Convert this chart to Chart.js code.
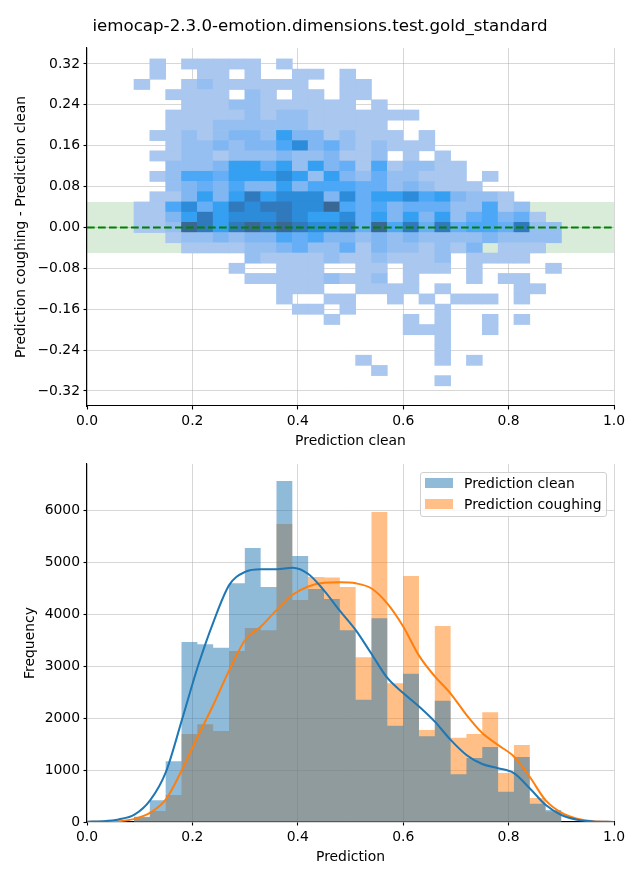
<!DOCTYPE html>
<html><head><meta charset="utf-8">
<script src="https://cdn.jsdelivr.net/npm/chart.js@4.4.1/dist/chart.umd.min.js"></script>
<style>
body{margin:0;background:#fff;width:640px;height:880px;position:relative;overflow:hidden;font-family:'DejaVu Sans',sans-serif;}
#title{position:absolute;left:0;top:16px;width:640px;text-align:center;font-size:16.67px;line-height:20px;color:#000;}
#c1{position:absolute;left:0;top:0;}
#c2{position:absolute;left:0;top:450px;}
#legend{position:absolute;left:420px;top:472px;width:185px;height:43px;border:1px solid #d0d0d0;border-radius:3px;background:rgba(255,255,255,0.8);font-size:13.9px;color:#000;}
.sw{position:absolute;left:4px;width:28px;height:10px;}
.lt{position:absolute;left:43px;line-height:16px;white-space:nowrap;}
</style>
</head><body>
<canvas id="c1" width="640" height="450"></canvas>
<canvas id="c2" width="640" height="430"></canvas>
<div id="title">iemocap-2.3.0-emotion.dimensions.test.gold_standard</div>
<div id="legend">
  <div class="sw" style="top:5px;background:rgba(31,119,180,0.5)"></div><div class="lt" style="top:2px">Prediction clean</div>
  <div class="sw" style="top:26px;background:rgba(255,127,14,0.5)"></div><div class="lt" style="top:23px">Prediction coughing</div>
</div>
<script>
// ---------- data ----------
const binStart = 0.0892;
const binWidth = 0.03004;
const xTicks = [0, 0.2, 0.4, 0.6, 0.8, 1.0];
const yTicksTop = [-0.32, -0.24, -0.16, -0.08, 0, 0.08, 0.16, 0.24, 0.32];
const yTicksBottom = [0, 1000, 2000, 3000, 4000, 5000, 6000];
const goldBandHalf = 0.05;
const diffRows = [0.32,0.30,0.28,0.26,0.24,0.22,0.20,0.18,0.16,0.14,0.12,0.10,0.08,0.06,0.04,0.02,0.00,
  -0.02,-0.04,-0.06,-0.08,-0.10,-0.12,-0.14,-0.16,-0.18,-0.20,-0.22,-0.24,-0.26,-0.28,-0.30];
const rowHeight = 0.02;
// relative counts (levels 1..9) per cell, row = diffRows, column = prediction-clean bin
const cellCounts = [
 [0,1,0,1,1,1,1,1,0,1,0,0,0,0,0,0,0,0,0,0,0,0,0,0,0,0,0],
 [0,1,0,0,1,1,0,1,0,0,1,1,0,1,0,0,0,0,0,0,0,0,0,0,0,0,0],
 [1,0,0,1,2,1,1,1,1,1,1,0,0,1,1,0,0,0,0,0,0,0,0,0,0,0,0],
 [0,0,1,1,1,1,0,2,1,0,1,1,0,1,1,0,0,0,0,0,0,0,0,0,0,0,0],
 [0,0,0,1,1,1,2,2,1,1,1,1,1,1,0,1,0,0,0,0,0,0,0,0,0,0,0],
 [0,0,1,1,1,1,1,2,1,2,2,1,1,1,1,1,1,1,0,0,0,0,0,0,0,0,0],
 [0,0,1,1,1,2,2,2,2,2,2,1,1,1,1,1,0,0,0,0,0,0,0,0,0,0,0],
 [0,1,1,2,1,2,3,3,2,6,3,3,1,2,1,1,1,0,1,0,0,0,0,0,0,0,0],
 [0,0,1,2,2,3,2,3,3,5,7,3,4,2,1,2,1,1,1,0,0,0,0,0,0,0,0],
 [0,1,1,2,2,1,2,2,2,3,2,2,3,1,1,2,0,1,0,1,0,0,0,0,0,0,0],
 [0,0,2,2,2,3,6,6,4,6,2,6,3,4,1,5,1,2,2,1,1,0,0,0,0,0,0],
 [0,1,2,5,5,4,6,6,6,7,6,2,6,3,2,4,2,2,1,1,1,0,1,0,0,0,0],
 [0,0,2,3,4,3,5,3,3,6,3,5,5,5,4,4,2,3,2,1,1,1,0,0,0,0,0],
 [0,1,1,3,6,3,6,8,6,7,7,7,3,7,4,6,6,7,5,6,3,2,2,1,0,0,0],
 [1,1,5,7,4,6,8,7,8,8,7,7,9,5,4,5,3,4,4,4,2,2,5,1,2,0,0],
 [1,1,3,6,8,6,7,7,7,8,7,6,6,7,4,6,3,6,3,6,2,4,5,3,4,1,0],
 [1,1,2,9,8,6,8,9,8,9,8,7,7,8,4,9,5,8,4,8,4,5,5,4,8,2,2],
 [0,0,1,2,2,3,2,3,3,5,4,5,3,3,2,3,2,3,2,2,2,2,3,2,2,2,2],
 [0,0,0,1,1,1,1,2,2,3,4,2,2,4,1,3,2,2,1,2,1,3,0,1,1,1,0],
 [0,0,0,0,0,0,0,2,1,1,1,1,2,1,1,2,1,1,1,2,0,1,1,1,1,0,0],
 [0,0,0,0,0,0,1,0,0,1,1,1,0,0,1,1,0,1,1,1,0,1,0,0,0,0,1],
 [0,0,0,0,0,0,0,1,1,1,1,1,2,1,1,2,0,1,0,0,0,1,0,1,1,0,0],
 [0,0,0,0,0,0,0,0,0,1,1,1,0,0,1,1,1,1,0,1,0,0,0,0,1,1,0],
 [0,0,0,0,0,0,0,0,0,1,0,0,1,1,0,0,1,0,1,0,1,1,1,0,1,0,0],
 [0,0,0,0,0,0,0,0,0,0,1,1,0,1,0,0,0,0,0,1,0,0,0,0,0,0,0],
 [0,0,0,0,0,0,0,0,0,0,0,0,1,0,0,0,0,1,0,1,0,0,1,0,1,0,0],
 [0,0,0,0,0,0,0,0,0,0,0,0,0,0,0,0,0,1,1,1,0,0,1,0,0,0,0],
 [0,0,0,0,0,0,0,0,0,0,0,0,0,0,0,0,0,0,0,1,0,0,0,0,0,0,0],
 [0,0,0,0,0,0,0,0,0,0,0,0,0,0,0,0,0,0,0,1,0,0,0,0,0,0,0],
 [0,0,0,0,0,0,0,0,0,0,0,0,0,0,1,0,0,0,0,1,0,1,0,0,0,0,0],
 [0,0,0,0,0,0,0,0,0,0,0,0,0,0,0,1,0,0,0,0,0,0,0,0,0,0,0],
 [0,0,0,0,0,0,0,0,0,0,0,0,0,0,0,0,0,0,0,1,0,0,0,0,0,0,0]
];
const cleanCounts = [100,420,1170,3460,3420,3350,4590,5270,4520,6560,5115,4480,4290,3690,2350,3920,1850,2850,1650,2330,920,1230,1440,580,1250,350,230];
const coughCounts = [90,210,520,1690,1880,1750,3290,3730,3690,5730,4270,4710,4700,4520,3170,5960,2670,4730,1770,3770,1620,1690,2110,940,1480,460,200];
const kdeX      = [0,0.03,0.06,0.09,0.12,0.15,0.18,0.21,0.24,0.27,0.30,0.33,0.36,0.39,0.42,0.45,0.48,0.51,0.54,0.57,0.60,0.63,0.66,0.69,0.72,0.75,0.78,0.81,0.84,0.87,0.90,0.93,0.96,1.0];
const kdeClean  = [5,15,50,140,420,970,1960,2980,3850,4560,4810,4860,4860,4890,4770,4450,4060,3690,3230,2770,2480,2220,1930,1580,1290,1115,1035,940,650,330,135,45,12,2];
const kdeCough  = [2,5,15,60,180,440,1000,1640,2260,2920,3500,3760,4080,4370,4530,4600,4610,4590,4490,4200,3760,3200,2800,2470,2060,1710,1480,1260,870,420,180,65,15,2];

// ---------- styles ----------
const levelColors = ['#a9c7ef','#96bff1','#80b7f3','#66aef5','#4ca7f6','#35a0f1','#2c8cd9','#3079bc','#3a6894'];
const gridColor = 'rgba(176,176,176,0.5)';
Chart.defaults.font.family = "'DejaVu Sans', sans-serif";
Chart.defaults.font.size = 13.9;
Chart.defaults.color = '#000';

const binCenter = i => binStart + binWidth * (i + 0.5);
const binEdge = i => binStart + binWidth * i;
const cells = [], cellColors = [];
cellCounts.forEach((row, r) => row.forEach((c, i) => {
  if (c > 0) {
    cells.push({x: binCenter(i), y: [diffRows[r] - rowHeight/2, diffRows[r] + rowHeight/2]});
    cellColors.push(levelColors[c - 1]);
  }
}));
// histogram as step outline: value of bin i held from edge i to edge i+1
function stepData(counts) {
  const pts = counts.map((v, i) => ({x: binEdge(i), y: v}));
  pts.push({x: binEdge(counts.length), y: counts[counts.length - 1]});
  return pts;
}

function axisX(title) {
  return {
    type: 'linear', min: 0, max: 1, offset: false, z: 1,
    grid: {offset: false, color: gridColor, lineWidth: 1, tickColor: '#000', tickLength: 3.5, tickWidth: 1.1},
    border: {color: '#000', width: 1.1},
    ticks: {padding: 3.5, color: '#000', maxRotation: 0, autoSkip: false, callback: v => v.toFixed(1)},
    afterBuildTicks: s => { s.ticks = xTicks.map(v => ({value: v})); },
    afterFit: s => { s.height = 44; },
    title: {display: true, text: title, color: '#000', padding: {top: 0, bottom: 0.6}}
  };
}
function axisY(title, min, max, ticks, fmt, tpad) {
  return {
    type: 'linear', min: min, max: max, z: 1,
    grid: {color: gridColor, lineWidth: 1, tickColor: '#000', tickLength: 3.5, tickWidth: 1.1},
    border: {color: '#000', width: 1.1},
    ticks: {padding: 3.5, color: '#000', autoSkip: false, callback: fmt},
    afterBuildTicks: s => { s.ticks = ticks.map(v => ({value: v})); },
    afterFit: s => { s.width = 87; },
    title: {display: true, text: title, color: '#000', padding: {top: tpad, bottom: 0}}
  };
}

new Chart(document.getElementById('c1'), {
  type: 'bar',
  data: {datasets: [
    {type: 'line', data: [{x: 0, y: goldBandHalf}, {x: 1, y: goldBandHalf}], fill: {value: -goldBandHalf},
     backgroundColor: 'rgba(0,128,0,0.15)', borderColor: 'rgba(0,0,0,0)', borderWidth: 0, pointRadius: 0, order: 3},
    {type: 'bar', data: cells, backgroundColor: cellColors, borderWidth: 0, barPercentage: 1, categoryPercentage: 1, grouped: false, order: 2},
    {type: 'line', data: [{x: 0, y: 0}, {x: 1, y: 0}], borderColor: '#008000', borderWidth: 2, borderDash: [7.7, 3.3],
     pointRadius: 0, fill: false, order: 1}
  ]},
  options: {
    responsive: false, animation: false, devicePixelRatio: 1,
    layout: {padding: {top: 48, right: 26, bottom: 0, left: 0}},
    plugins: {legend: {display: false}, tooltip: {enabled: false}},
    scales: {
      x: axisX('Prediction clean'),
      y: axisY('Prediction coughing - Prediction clean', -0.3495, 0.3513, yTicksTop,
        v => (v < -1e-9 ? '\u2212' : '') + Math.abs(v).toFixed(2), 12.7)
    }
  }
});

new Chart(document.getElementById('c2'), {
  type: 'line',
  data: {datasets: [
    {label: 'kde clean', data: kdeX.map((x, i) => ({x: x, y: kdeClean[i]})), borderColor: '#1f77b4', borderWidth: 2,
     pointRadius: 0, cubicInterpolationMode: 'monotone', fill: false, order: 1},
    {label: 'kde coughing', data: kdeX.map((x, i) => ({x: x, y: kdeCough[i]})), borderColor: '#ff7f0e', borderWidth: 2,
     pointRadius: 0, cubicInterpolationMode: 'monotone', fill: false, order: 2},
    {label: 'Prediction clean', data: stepData(cleanCounts), stepped: 'before', fill: 'origin',
     backgroundColor: 'rgba(31,119,180,0.5)', borderColor: 'rgba(0,0,0,0)', borderWidth: 0, pointRadius: 0, order: 3},
    {label: 'Prediction coughing', data: stepData(coughCounts), stepped: 'before', fill: 'origin',
     backgroundColor: 'rgba(255,127,14,0.5)', borderColor: 'rgba(0,0,0,0)', borderWidth: 0, pointRadius: 0, order: 4}
  ]},
  options: {
    responsive: false, animation: false, devicePixelRatio: 1,
    layout: {padding: {top: 14, right: 26, bottom: 14, left: 0}},
    plugins: {legend: {display: false}, tooltip: {enabled: false}},
    scales: {
      x: axisX('Prediction'),
      y: axisY('Frequency', 0, 6885, yTicksBottom, v => String(v), 21.7)
    }
  }
});
</script>
</body></html>
